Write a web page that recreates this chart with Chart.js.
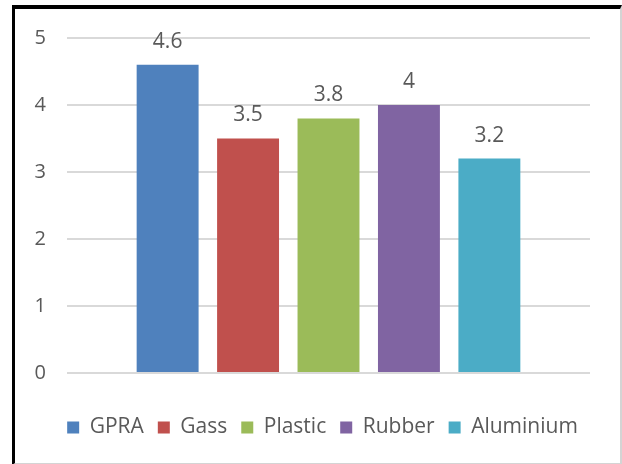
<!DOCTYPE html>
<html>
<head>
<meta charset="utf-8">
<script src="https://cdn.jsdelivr.net/npm/chart.js@4/dist/chart.umd.min.js"></script>
<style>
  html, body { margin: 0; padding: 0; background: #ffffff; }
  #frame {
    position: absolute; left: 12px; top: 5px; width: 605px; height: 454px;
    border-top: 4px solid #000; border-left: 3px solid #000;
    border-right: 2px solid #d4d4d4; border-bottom: 2px solid #d4d4d4;
  }
  #wrap { position: absolute; left: 0; top: 0; width: 622px; height: 464px; }
</style>
</head>
<body>
<div id="frame"></div>
<div id="wrap"><canvas id="c" width="622" height="464"></canvas></div>
<script>
// Materials and their measured values
const materials = ['GPRA', 'Gass', 'Plastic', 'Rubber', 'Aluminium'];
const values = [4.6, 3.5, 3.8, 4.0, 3.2];
const colors = ['#4F81BD', '#C0504D', '#9BBB59', '#8064A2', '#4BACC6'];
const yTicks = [0, 1, 2, 3, 4, 5];

const FONT = '"Open Sans", sans-serif';
const TEXT = '#595959';

// Write each bar's value above it
const valueLabels = {
  id: 'valueLabels',
  afterDatasetsDraw(chart) {
    const ctx = chart.ctx;
    ctx.save();
    ctx.font = '21px ' + FONT;
    ctx.fillStyle = TEXT;
    ctx.textAlign = 'center';
    ctx.textBaseline = 'middle';
    chart.data.datasets.forEach((ds, i) => {
      const bar = chart.getDatasetMeta(i).data[0];
      ctx.fillText(String(ds.data[0]), bar.x, bar.y - 23);
    });
    ctx.restore();
  }
};

// Centre the legend row under the plot area rather than the whole canvas
const legendShift = {
  id: 'legendShift',
  afterLayout(chart) {
    const lg = chart.legend;
    if (!lg) return;
    const dx = (chart.chartArea.left + chart.chartArea.right) / 2 - 6 - (lg.left + lg.right) / 2;
    lg.left += dx;
    lg.right += dx;
  }
};

new Chart(document.getElementById('c'), {
  type: 'bar',
  data: {
    labels: [''],
    datasets: materials.map((m, i) => ({
      label: m,
      data: [values[i]],
      backgroundColor: colors[i],
      borderWidth: 0,
      categoryPercentage: 0.769,
      barPercentage: 0.77
    }))
  },
  options: {
    responsive: false,
    animation: false,
    layout: { padding: { left: 0, right: 32, top: 38, bottom: 16 } },
    plugins: {
      legend: {
        position: 'bottom',
        labels: {
          boxWidth: 12, boxHeight: 12, padding: 14,
          color: TEXT, font: { family: FONT, size: 21 }
        }
      },
      tooltip: { enabled: false }
    },
    scales: {
      x: {
        ticks: { display: false },
        grid: { display: false },
        border: { display: false },
        afterFit(s) { s.height = 30; }
      },
      y: {
        min: 0, max: 5,
        afterBuildTicks(s) { s.ticks = yTicks.map(v => ({ value: v })); },
        afterFit(s) { s.width = 67; },
        ticks: { color: TEXT, font: { family: FONT, size: 20 }, padding: 21 },
        grid: { color: '#d9d9d9', lineWidth: 2, drawTicks: false },
        border: { display: false }
      }
    }
  },
  plugins: [valueLabels, legendShift]
});
</script>
</body>
</html>
